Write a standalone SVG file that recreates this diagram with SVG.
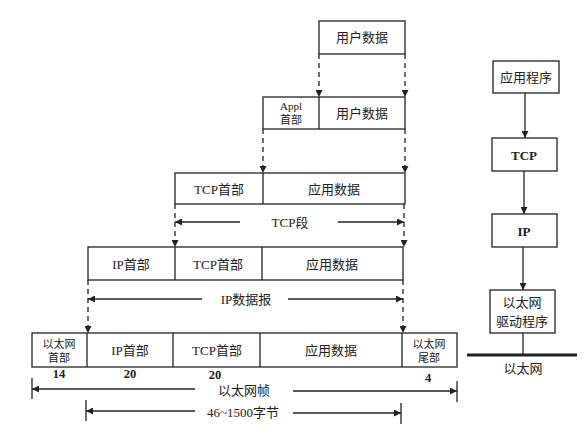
<svg xmlns="http://www.w3.org/2000/svg" width="586" height="445" viewBox="0 0 586 445">
<style>
.b{fill:#fff;stroke:#222;stroke-width:1.3}
.d{stroke:#222;stroke-width:1.3;fill:none}
.dash{stroke:#222;stroke-width:1.3;stroke-dasharray:5,4;fill:none}
text{font-family:"Liberation Serif","Noto Sans CJK SC",serif;font-size:13px;fill:#222;text-anchor:middle;dominant-baseline:central}
.s{font-size:11px}
.n{font-size:12.5px;font-weight:bold}
.bold{font-weight:bold}
</style>
<defs>
<marker id="ah" viewBox="0 0 10 10" refX="10" refY="5" markerWidth="10" markerHeight="7" markerUnits="userSpaceOnUse" orient="auto">
<path d="M0,0 L10,5 L0,10 Z" fill="#222"/>
</marker>
</defs>
<rect width="586" height="445" fill="#fff"/>

<g id="row1">
<rect class="b" x="319" y="21" width="86" height="33"/>
<text x="362" y="37">用户数据</text>
</g>

<g id="row2">
<rect class="b" x="263" y="97" width="142" height="32"/>
<line class="d" x1="319" y1="97" x2="319" y2="129"/>
<text class="s" x="291" y="106">Appl</text>
<text class="s" x="291" y="120">首部</text>
<text x="362" y="113">用户数据</text>
</g>

<g id="row3">
<rect class="b" x="175" y="173" width="230" height="31"/>
<line class="d" x1="263" y1="173" x2="263" y2="204"/>
<text x="219" y="189">TCP首部</text>
<text x="334" y="189">应用数据</text>
</g>

<g id="row4">
<rect class="b" x="88" y="247" width="315" height="33"/>
<line class="d" x1="175" y1="247" x2="175" y2="280"/>
<line class="d" x1="262" y1="247" x2="262" y2="280"/>
<text x="131" y="264">IP首部</text>
<text x="218" y="264">TCP首部</text>
<text x="332" y="264">应用数据</text>
</g>

<g id="row5">
<rect class="b" x="32" y="333" width="425" height="34"/>
<line class="d" x1="87" y1="333" x2="87" y2="367"/>
<line class="d" x1="173" y1="333" x2="173" y2="367"/>
<line class="d" x1="260" y1="333" x2="260" y2="367"/>
<line class="d" x1="402" y1="333" x2="402" y2="367"/>
<text class="s" x="59" y="344">以太网</text>
<text class="s" x="59" y="358">首部</text>
<text x="130" y="350">IP首部</text>
<text x="217" y="350">TCP首部</text>
<text x="331" y="350">应用数据</text>
<text class="s" x="429" y="344">以太网</text>
<text class="s" x="429" y="358">尾部</text>
<text class="n" x="59" y="374">14</text>
<text class="n" x="130" y="374">20</text>
<text class="n" x="215" y="375">20</text>
<text class="n" x="428" y="378">4</text>
</g>

<g id="stack">
<g id="app"><rect class="b" x="493" y="61" width="66" height="32"/><text x="526" y="77">应用程序</text></g>
<g id="tcp"><rect class="b" x="492" y="138" width="65" height="33"/><text class="bold" x="524" y="155">TCP</text></g>
<g id="ip"><rect class="b" x="492" y="214" width="65" height="33"/><text class="bold" x="524" y="231">IP</text></g>
<g id="drv"><rect class="b" x="490" y="290" width="65" height="43"/><text x="522" y="302">以太网</text><text x="522" y="321">驱动程序</text></g>
<g id="ether"><line x1="467" y1="355" x2="577" y2="355" stroke="#222" stroke-width="3"/><text x="523" y="368">以太网</text></g>
</g>

<g id="connectors">
<line class="dash" x1="319" y1="54" x2="319" y2="97" marker-end="url(#ah)"/>
<line class="dash" x1="405" y1="54" x2="405" y2="97" marker-end="url(#ah)"/>
<line class="dash" x1="263" y1="129" x2="263" y2="173" marker-end="url(#ah)"/>
<line class="dash" x1="405" y1="129" x2="405" y2="173" marker-end="url(#ah)"/>
<line class="dash" x1="175" y1="204" x2="175" y2="247" marker-end="url(#ah)"/>
<line class="dash" x1="404" y1="204" x2="404" y2="247" marker-end="url(#ah)"/>
<line class="dash" x1="88" y1="280" x2="88" y2="333" marker-end="url(#ah)"/>
<line class="dash" x1="403" y1="280" x2="403" y2="333" marker-end="url(#ah)"/>

<line class="d" x1="240" y1="222" x2="175" y2="222" marker-end="url(#ah)"/>
<line class="d" x1="338" y1="222" x2="404" y2="222" marker-end="url(#ah)"/>
<text x="290" y="222">TCP段</text>

<line class="d" x1="202" y1="299" x2="88" y2="299" marker-end="url(#ah)"/>
<line class="d" x1="288" y1="299" x2="403" y2="299" marker-end="url(#ah)"/>
<text x="246" y="299">IP数据报</text>

<line class="d" x1="32" y1="378" x2="32" y2="399"/>
<line class="d" x1="457" y1="381" x2="457" y2="402"/>
<line class="d" x1="195" y1="389" x2="32" y2="389" marker-end="url(#ah)"/>
<line class="d" x1="293" y1="391" x2="457" y2="391" marker-end="url(#ah)"/>
<text x="244" y="390">以太网帧</text>

<line class="d" x1="86" y1="400" x2="86" y2="421"/>
<line class="d" x1="401" y1="403" x2="401" y2="424"/>
<line class="d" x1="195" y1="411" x2="86" y2="411" marker-end="url(#ah)"/>
<line class="d" x1="293" y1="413" x2="401" y2="413" marker-end="url(#ah)"/>
<text x="243" y="412">46~1500字节</text>

<line class="d" x1="525" y1="93" x2="525" y2="138" marker-end="url(#ah)"/>
<line class="d" x1="524" y1="171" x2="524" y2="214" marker-end="url(#ah)"/>
<line class="d" x1="523" y1="247" x2="523" y2="290" marker-end="url(#ah)"/>
<line class="d" x1="523" y1="333" x2="523" y2="355"/>
</g>
</svg>
